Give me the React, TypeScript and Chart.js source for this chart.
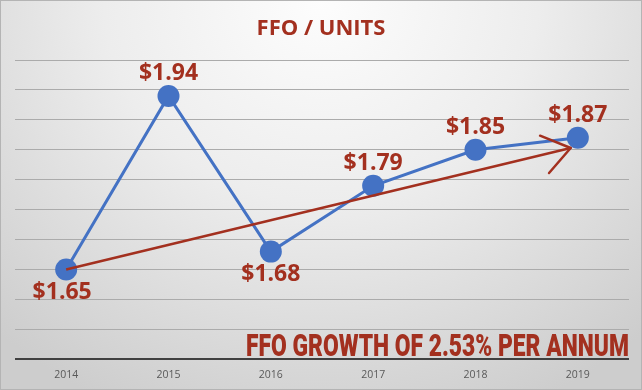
import React, { useEffect, useRef } from "react";
import { Chart, registerables } from "chart.js";

Chart.register(...registerables);

const years = [2014, 2015, 2016, 2017, 2018, 2019];
const ffoPerUnit = [1.65, 1.94, 1.68, 1.79, 1.85, 1.87];
const labelSide = ["below", "above", "below", "above", "above", "above"];
const trendYears = [2014, 2018.93];
const trendValues = [1.65, 1.853];
const titleText = "FFO / UNITS";
const noteText = "FFO GROWTH OF 2.53% PER ANNUM";
const yMin = 1.5;
const yMax = 2.0;
const yStep = 0.05;

const RED = "#A3301F";
const BLUE = "#4472C4";

const decoPlugin = {
  id: "deco",
  afterDatasetsDraw(chart: any) {
    const { ctx } = chart;
    // arrow head on trend line
    const tm = chart.getDatasetMeta(1);
    const p1 = tm.data[0];
    const p2 = tm.data[tm.data.length - 1];
    const ang = Math.atan2(p2.y - p1.y, p2.x - p1.x);
    ctx.save();
    ctx.strokeStyle = RED;
    ctx.lineWidth = 2.5;
    ctx.lineCap = "round";
    for (const s of [-1, 1]) {
      const a = ang + Math.PI + s * 0.62;
      ctx.beginPath();
      ctx.moveTo(p2.x, p2.y);
      ctx.lineTo(p2.x + 33 * Math.cos(a), p2.y + 33 * Math.sin(a));
      ctx.stroke();
    }
    ctx.restore();

    // data labels
    const meta = chart.getDatasetMeta(0);
    ctx.save();
    ctx.fillStyle = RED;
    ctx.font = "bold 23px 'Open Sans'";
    ctx.textAlign = "center";
    ctx.textBaseline = "alphabetic";
    meta.data.forEach((pt: any, i: number) => {
      const txt = "$" + ffoPerUnit[i].toFixed(2);
      const below = labelSide[i] === "below";
      const dx = i === 0 ? -4 : 0;
      const y = below ? pt.y + 29 : pt.y - 16;
      ctx.fillText(txt, pt.x + dx, y);
    });
    ctx.restore();
  },
  afterDraw(chart: any) {
    const { ctx, chartArea, width } = chart;
    ctx.save();
    // title
    ctx.fillStyle = RED;
    ctx.font = "bold 22px 'Open Sans'";
    ctx.textAlign = "center";
    ctx.textBaseline = "alphabetic";
    ctx.fillText(titleText, width / 2, 35);
    // note
    ctx.font = "900 32px Roboto";
    ctx.textAlign = "left";
    const w = ctx.measureText(noteText).width;
    const target = 383;
    ctx.translate(chartArea.right - target, chartArea.bottom - 3);
    ctx.scale(target / w, 1);
    ctx.fillText(noteText, 0, 0);
    ctx.restore();
  },
};

export default function App() {
  const ref = useRef<HTMLCanvasElement | null>(null);
  useEffect(() => {
    if (!ref.current) return;
    const chart = new Chart(ref.current, {
      type: "line",
      data: {
        datasets: [
          {
            label: "FFO / Units",
            data: years.map((y, i) => ({ x: y, y: ffoPerUnit[i] })),
            borderColor: BLUE,
            backgroundColor: BLUE,
            borderWidth: 3,
            pointRadius: 11,
            pointBorderWidth: 0,
            pointBackgroundColor: BLUE,
            order: 1,
          },
          {
            label: "Trend",
            data: trendYears.map((y, i) => ({ x: y, y: trendValues[i] })),
            borderColor: RED,
            borderWidth: 2.5,
            pointRadius: 0,
            order: 0,
          },
        ],
      },
      options: {
        responsive: false,
        animation: false,
        layout: { padding: { left: 15, right: 13, top: 60, bottom: 0 } },
        plugins: {
          legend: { display: false },
          tooltip: { enabled: false },
          title: { display: false },
        },
        scales: {
          x: {
            type: "linear",
            min: 2013.5,
            max: 2019.5,
            afterBuildTicks: (axis: any) => {
              axis.ticks = years.map((v) => ({ value: v }));
            },
            grid: { display: false, drawTicks: false },
            border: { display: false },
            ticks: {
              padding: 9,
              color: "#595959",
              font: { family: "'Open Sans'", size: 10.5 },
              callback: (v: any) => String(v),
              autoSkip: false,
              maxRotation: 0,
            },
          },
          y: {
            min: yMin,
            max: yMax,
            ticks: { display: false, stepSize: yStep },
            border: { display: false },
            grid: {
              drawTicks: false,
              color: (c: any) =>
                c.tick && Math.abs(c.tick.value - yMin) < 1e-6 ? "#404040" : "#ababab",
              lineWidth: (c: any) =>
                c.tick && Math.abs(c.tick.value - yMin) < 1e-6 ? 2 : 1,
            },
          },
        },
      },
      plugins: [decoPlugin],
    });
    return () => chart.destroy();
  }, []);
  return (
    <div
      style={{
        position: "absolute",
        left: 0,
        top: 0,
        width: 642,
        height: 390,
        background:
          "radial-gradient(ellipse 75% 115% at 50% 0%, #fdfdfd 0%, #ededed 45%, #cdcdcd 100%)",
        boxShadow: "inset 0 0 0 1px #b4b4b4",
      }}
    >
      <canvas ref={ref} width={642} height={390} style={{ display: "block", width: 642, height: 390 }} />
    </div>
  );
}
